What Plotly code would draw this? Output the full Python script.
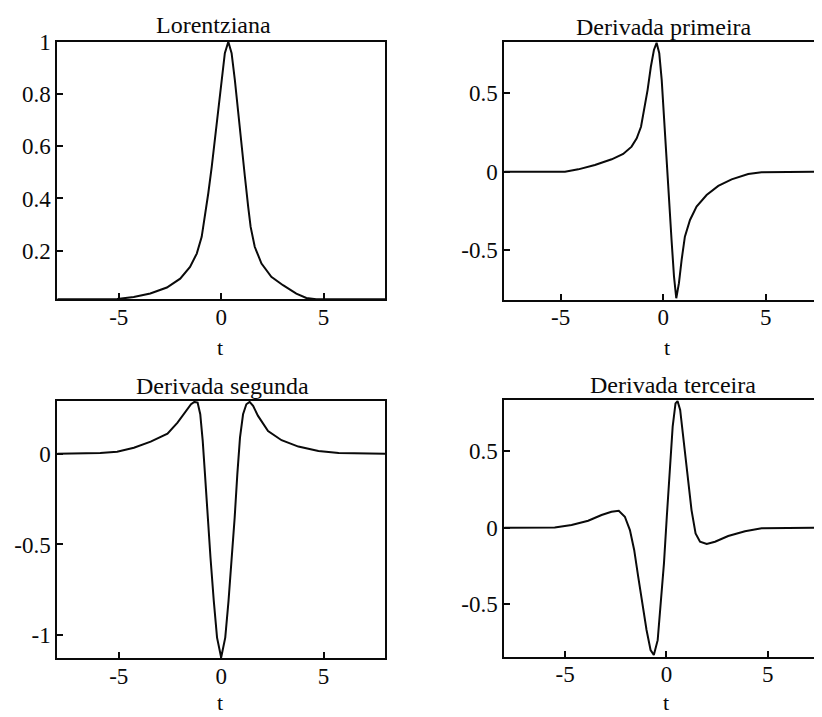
import plotly.graph_objects as go

# ---------------- data ----------------
t_lor = [-8.0, -5.08, -4.27, -3.46, -2.65, -2.00, -1.52, -1.19, -0.95, -0.79, -0.63, -0.46,
         -0.30, -0.14, 0.02, 0.18, 0.35, 0.51, 0.67, 0.83, 1.00, 1.16, 1.32, 1.44, 1.64,
         1.97, 2.45, 3.02, 3.67, 4.16, 4.64, 8.0]
y_lor = [0.014, 0.015, 0.023, 0.036, 0.059, 0.093, 0.138, 0.189, 0.253, 0.330, 0.419, 0.521,
         0.636, 0.751, 0.866, 0.956, 1.0, 0.956, 0.853, 0.726, 0.598, 0.483, 0.368, 0.291, 0.215,
         0.151, 0.100, 0.068, 0.036, 0.019, 0.014, 0.014]

t_d1 = [-7.75, -4.79, -4.14, -3.33, -2.51, -1.95, -1.54, -1.29, -1.08, -0.92, -0.76, -0.60,
        -0.45, -0.32, -0.19, -0.07, 0.05, 0.17, 0.28, 0.41, 0.53, 0.64, 0.77, 0.90, 1.06,
        1.31, 1.63, 2.12, 2.69, 3.34, 4.15, 4.80, 7.75]
y_d1 = [0.0, 0.0, 0.015, 0.043, 0.079, 0.113, 0.160, 0.213, 0.287, 0.394, 0.521, 0.670,
        0.777, 0.823, 0.756, 0.585, 0.351, 0.096, -0.159, -0.436, -0.670, -0.808, -0.712,
        -0.564, -0.415, -0.308, -0.223, -0.149, -0.091, -0.049, -0.015, -0.004, 0.0]

t_d2 = [-8.0, -5.90, -5.08, -4.26, -3.44, -2.62, -2.13, -1.72, -1.47, -1.31, -1.15, -1.02,
        -0.90, -0.79, -0.66, -0.52, -0.36, -0.20, 0.0, 0.20, 0.36, 0.52, 0.66, 0.79, 0.92,
        1.07, 1.23, 1.39, 1.56, 1.80, 2.29, 2.95, 3.77, 4.75, 5.74, 8.0]
y_d2 = [0.0, 0.003, 0.011, 0.033, 0.066, 0.110, 0.171, 0.235, 0.272, 0.285, 0.281, 0.217,
        0.070, -0.113, -0.352, -0.573, -0.811, -1.013, -1.123, -1.013, -0.811, -0.573, -0.352,
        -0.113, 0.088, 0.217, 0.272, 0.285, 0.263, 0.208, 0.125, 0.074, 0.039, 0.015, 0.004, 0.0]

t_d3 = [-8.0, -5.51, -4.68, -3.86, -3.20, -2.71, -2.35, -2.05, -1.80, -1.59, -1.39, -1.20,
        -0.98, -0.78, -0.62, -0.43, -0.29, -0.12, 0.02, 0.17, 0.31, 0.45, 0.55, 0.68, 0.85,
        1.05, 1.24, 1.44, 1.66, 1.99, 2.40, 3.05, 3.88, 4.70, 7.68]
y_d3 = [0.0, 0.002, 0.018, 0.046, 0.083, 0.104, 0.111, 0.072, -0.015, -0.145, -0.320, -0.493,
        -0.667, -0.798, -0.830, -0.733, -0.515, -0.232, 0.072, 0.376, 0.659, 0.811, 0.826, 0.768,
        0.572, 0.333, 0.115, -0.037, -0.091, -0.106, -0.091, -0.054, -0.023, -0.004, 0.0]

titles = ["Lorentziana", "Derivada primeira", "Derivada segunda", "Derivada terceira"]
x_label = "t"

x_tickvals = [-5, 0, 5]
x_ticktext = ["-5", "0", "5"]
y1_tickvals = [0.2, 0.4, 0.6, 0.8, 1.0]
y1_ticktext = ["0.2", "0.4", "0.6", "0.8", "1"]
y2_tickvals = [-0.5, 0, 0.5]
y2_ticktext = ["-0.5", "0", "0.5"]
y3_tickvals = [-1, -0.5, 0]
y3_ticktext = ["-1", "-0.5", "0"]
y4_tickvals = [-0.5, 0, 0.5]
y4_ticktext = ["-0.5", "0", "0.5"]

# ---------------- figure ----------------
W, H = 822, 717
OFF = 8  # default page margin around the figure
FONT = "Liberation Serif, Times New Roman, serif"
INK = "#0a0a0a"

def px(x):
    return (x - OFF) / W

def py(y):
    return 1 - (y - OFF) / H

fig = go.Figure()
series = [(t_lor, y_lor), (t_d1, y_d1), (t_d2, y_d2), (t_d3, y_d3)]
for i, (tx, ty) in enumerate(series):
    sfx = "" if i == 0 else str(i + 1)
    fig.add_trace(go.Scatter(x=tx, y=ty, mode="lines", xaxis="x" + sfx, yaxis="y" + sfx,
                             line=dict(color=INK, width=2), hoverinfo="skip"))

common = dict(showgrid=False, zeroline=False, showline=True, linecolor=INK, linewidth=2,
              ticks="inside", ticklen=6, tickwidth=2, tickcolor=INK, automargin=False,
              tickfont=dict(family=FONT, size=23, color=INK))

left_dom = [px(57.3), px(385)]
right_dom = [px(504.3), px(822)]

axes = {
    "xaxis": dict(domain=left_dom, range=[-8, 8], anchor="y", mirror=True),
    "yaxis": dict(domain=[py(299.3), py(41.7)], range=[0.014, 1.0], anchor="x", mirror=True,
                  tickvals=y1_tickvals, ticktext=y1_ticktext),
    "xaxis2": dict(domain=right_dom, range=[-7.75, 7.75], anchor="y2", mirror=True),
    "yaxis2": dict(domain=[py(299.5), py(41.7)], range=[-0.816, 0.830], anchor="x2", mirror=False,
                   tickvals=y2_tickvals, ticktext=y2_ticktext),
    "xaxis3": dict(domain=left_dom, range=[-8, 8], anchor="y3", mirror=True),
    "yaxis3": dict(domain=[py(658.3), py(401)], range=[-1.127, 0.290], anchor="x3", mirror=True,
                   tickvals=y3_tickvals, ticktext=y3_ticktext),
    "xaxis4": dict(domain=right_dom, range=[-8, 7.68], anchor="y4", mirror=True),
    "yaxis4": dict(domain=[py(656.7), py(400)], range=[-0.841, 0.833], anchor="x4", mirror=False,
                   tickvals=y4_tickvals, ticktext=y4_ticktext),
}
for name, a in axes.items():
    a.update(common)
    if name.startswith("x"):
        a.update(tickvals=x_tickvals, ticktext=x_ticktext, ticklabelstandoff=-4)
    fig.layout[name] = a

# titles and axis labels placed as text
title_pos = [(213, 25), (664, 27), (222, 386), (673, 385)]
tlabel_pos = [(220, 347), (667, 347), (220, 702), (666, 702)]
ann = []
for ttl, (x0, y0) in zip(titles, title_pos):
    ann.append(dict(text=ttl, x=px(x0), y=py(y0), xref="paper", yref="paper",
                    xanchor="center", yanchor="middle", showarrow=False,
                    font=dict(family=FONT, size=24, color=INK)))
for (x0, y0) in tlabel_pos:
    ann.append(dict(text=x_label, x=px(x0), y=py(y0), xref="paper", yref="paper",
                    xanchor="center", yanchor="middle", showarrow=False,
                    font=dict(family=FONT, size=22, color=INK)))

fig.update_layout(width=W, height=H, margin=dict(l=0, r=0, t=0, b=0, autoexpand=False),
                  paper_bgcolor="white", plot_bgcolor="white", showlegend=False,
                  annotations=ann)

fig.write_html("out.html")
